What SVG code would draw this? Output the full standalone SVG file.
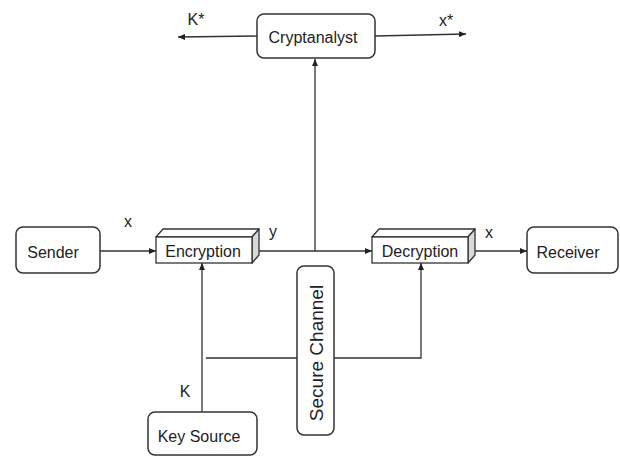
<svg xmlns="http://www.w3.org/2000/svg" width="620" height="457" viewBox="0 0 620 457">
<defs>
<marker id="arr" markerWidth="8" markerHeight="6" refX="7" refY="3" orient="auto" markerUnits="userSpaceOnUse">
<path d="M0,0 L7,3 L0,6 z" fill="#222"/>
</marker>
<style>
.box{fill:#fff;stroke:#333;stroke-width:1.5}
.side{fill:#d9d9d9;stroke:#333;stroke-width:1.3;stroke-linejoin:round}
.top{fill:#fff;stroke:#333;stroke-width:1.3;stroke-linejoin:round}
.t{font-family:"Liberation Sans",Arial,sans-serif;font-size:16px;fill:#222}
.c{stroke:#333;stroke-width:1.3;fill:none}
.a{marker-end:url(#arr)}
</style>
</defs>
<rect width="620" height="457" fill="#fff"/>
<g id="connectors">
<line class="c a" x1="100" y1="251" x2="156" y2="251"/>
<line class="c a" x1="259" y1="251" x2="372" y2="251"/>
<line class="c a" x1="315" y1="251" x2="315" y2="59"/>
<line class="c a" x1="257" y1="36" x2="178" y2="37"/>
<line class="c a" x1="375" y1="36" x2="466" y2="34"/>
<line class="c a" x1="475" y1="251" x2="527" y2="251"/>
<line class="c a" x1="202" y1="412" x2="202" y2="263"/>
<line class="c" x1="206" y1="358" x2="297" y2="358"/>
<polyline class="c a" points="334,358 421,358 421,263"/>
<text class="t" x="128" y="227" text-anchor="middle">x</text>
<text class="t" x="273" y="237" text-anchor="middle">y</text>
<text class="t" x="489" y="238" text-anchor="middle">x</text>
<text class="t" x="185" y="397" text-anchor="middle">K</text>
<text class="t" x="196" y="25" text-anchor="middle">K*</text>
<text class="t" x="446" y="26" text-anchor="middle">x*</text>
</g>
<g id="cryptanalyst">
<rect class="box" x="257" y="14" width="118" height="44" rx="7"/>
<text class="t" x="313" y="43" text-anchor="middle">Cryptanalyst</text>
</g>
<g id="sender">
<rect class="box" x="16" y="227" width="84" height="46" rx="7"/>
<text class="t" x="53" y="258" text-anchor="middle">Sender</text>
</g>
<g id="encryption">
<polygon class="top" points="156,237 163,229 259,229 252,237"/>
<polygon class="side" points="252,237 259,229 259,255 252,263"/>
<rect class="box" x="156" y="237" width="96" height="26" style="stroke-width:1.3"/>
<text class="t" x="203" y="257" text-anchor="middle">Encryption</text>
</g>
<g id="decryption">
<polygon class="top" points="372,237 379,229 475,229 468,237"/>
<polygon class="side" points="468,237 475,229 475,255 468,263"/>
<rect class="box" x="372" y="237" width="96" height="26" style="stroke-width:1.3"/>
<text class="t" x="420" y="257" text-anchor="middle">Decryption</text>
</g>
<g id="receiver">
<rect class="box" x="527" y="227" width="91" height="46" rx="7"/>
<text class="t" x="568" y="258" text-anchor="middle">Receiver</text>
</g>
<g id="key-source">
<rect class="box" x="148" y="412" width="109" height="43" rx="7"/>
<text class="t" x="199" y="442" text-anchor="middle">Key Source</text>
</g>
<g id="secure-channel">
<rect class="box" x="297" y="266" width="37" height="169" rx="7"/>
<text class="t" x="0" y="0" text-anchor="middle" style="font-size:19px" transform="translate(323,353) rotate(-90)">Secure Channel</text>
</g>
</svg>
